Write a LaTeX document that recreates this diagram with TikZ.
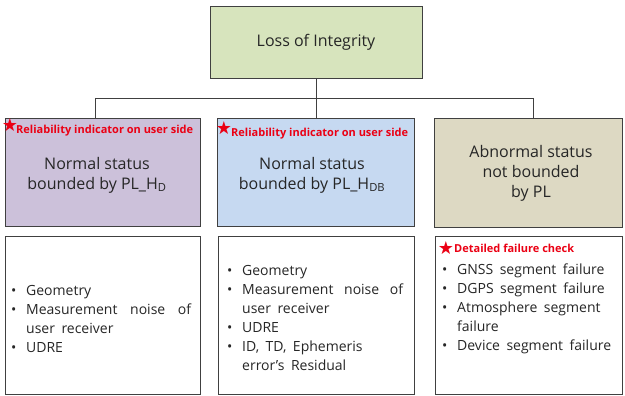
\documentclass[tikz,border=0pt]{standalone}
\usepackage{fontspec}
\setmainfont{Open Sans}
\newfontfamily\symfont{DejaVu Sans}
\definecolor{topgreen}{RGB}{215,228,189}
\definecolor{lav}{RGB}{204,193,218}
\definecolor{lblue}{RGB}{198,217,241}
\definecolor{tan}{RGB}{221,217,195}
\definecolor{edge}{RGB}{64,64,64}
\definecolor{labred}{RGB}{235,0,20}
\newcommand\mybul[1][15pt]{\makebox[#1][l]{\textbullet}}
\newcommand\mycont[1][15pt]{\hspace*{#1}}
\newcommand\wide[2]{\makebox[#1][s]{#2}}
\newcommand\lstfont{\fontsize{14}{19}\selectfont\spaceskip=6.5pt plus 1pt\relax}
\begin{document}
\begin{tikzpicture}[x=1pt,y=-1pt,
  box/.style={draw=edge, line width=0.9pt, inner sep=0pt},
  main/.style={font=\fontsize{16}{20}\selectfont, align=center, inner sep=0pt, text=black!85},
  redlab/.style={font=\bfseries\fontsize{11}{13}\selectfont, text=labred, inner sep=0pt, anchor=west},
  starmark/.style={font=\symfont\fontsize{18}{18}\selectfont, text=labred, inner sep=0pt},
  lst/.style={font=\lstfont, align=left, inner sep=0pt, anchor=west, text=black!85},
  conn/.style={draw=edge, line width=0.8pt}]
\useasboundingbox (0,0) rectangle (625,396);
% boxes
\node[box, fill=topgreen, minimum width=212pt, minimum height=72pt] (top) at (316,42) {};
\node[box, fill=lav, minimum width=195pt, minimum height=108pt] (b1) at (102.5,172) {};
\node[box, fill=lblue, minimum width=197pt, minimum height=108pt] (b2) at (315.5,172.5) {};
\node[box, fill=tan, minimum width=188pt, minimum height=109pt] (b3) at (528,172.5) {};
\node[box, fill=white, minimum width=195pt, minimum height=158pt] (l1) at (102.5,315) {};
\node[box, fill=white, minimum width=196pt, minimum height=158pt] (l2) at (316,315) {};
\node[box, fill=white, minimum width=187pt, minimum height=158pt] (l3) at (528.5,315) {};
% connectors
\coordinate (j0) at (316,98);
\coordinate (j1) at (95,98);
\coordinate (j3) at (533,98);
\draw[conn] (top.south) -- (j0);
\draw[conn] (j1) -- (j3);
\draw[conn] (j1) -- (j1 |- b1.north);
\draw[conn] (j0) -- (j0 |- b2.north);
\draw[conn] (j3) -- (j3 |- b3.north);
% texts
\node[main] (ttop) at (316,42) {Loss of Integrity};
\node[starmark] (s1) at (10,125) {★};
\node[redlab] (r1) at (16,131) {Reliability indicator on user side};
\node[main] (t1) at (97,175) {Normal status\\bounded by PL\_H\textsubscript{D}};
\node[starmark] (s2) at (224,128) {★};
\node[redlab] (r2) at (231,134) {Reliability indicator on user side};
\node[main] (t2) at (312,175) {Normal status\\bounded by PL\_H\textsubscript{DB}};
\node[main] (t3) at (531,173) {Abnormal status\\not bounded\\by PL};
\node[lst] (p1) at (11,318.5) {\mybul Geometry\\\mybul \wide{165pt}{Measurement noise of}\\\mycont user receiver\\\mybul UDRE};
\node[lst] (p2) at (227,317.5) {\mybul Geometry\\\mybul \wide{161pt}{Measurement noise of}\\\mycont user receiver\\\mybul UDRE\\\mybul ID, TD, Ephemeris\\\mycont error's Residual};
\node[starmark] (s3) at (446,248) {★};
\node[redlab] (r3) at (454,248) {Detailed failure check};
\node[lst] (p3) at (442,308.5) {\mybul GNSS segment failure\\\mybul DGPS segment failure\\\mybul Atmosphere segment\\\mycont failure\\\mybul Device segment failure};
\end{tikzpicture}
\end{document}
